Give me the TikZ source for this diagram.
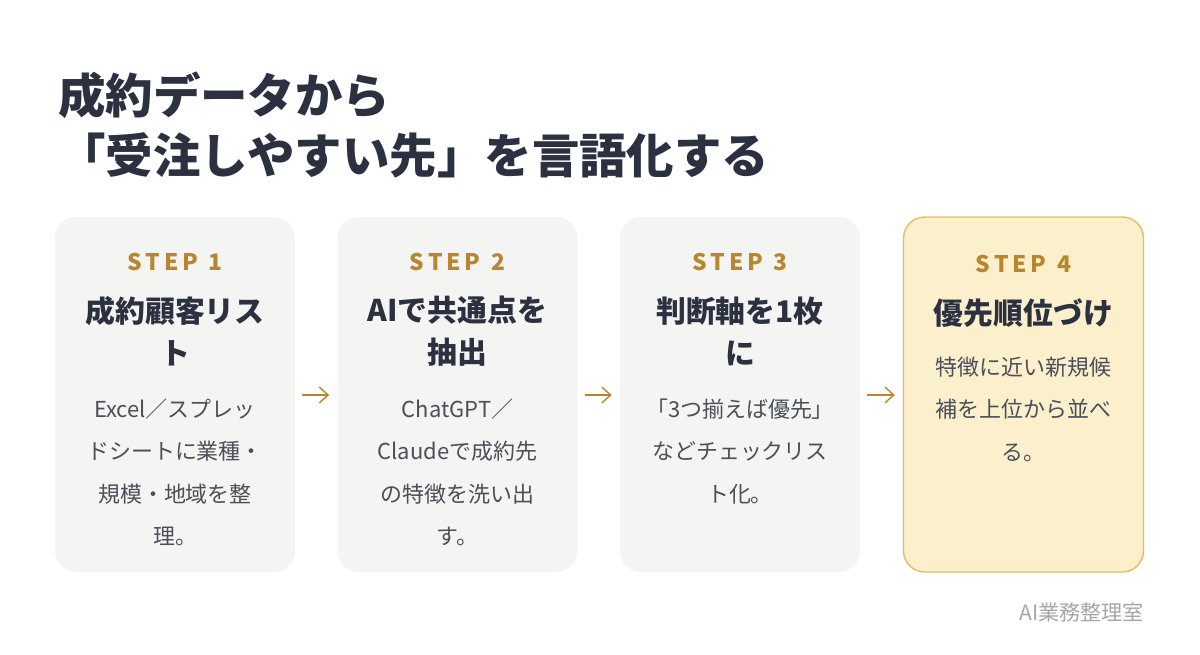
\documentclass[tikz,border=0pt]{standalone}
\usepackage{fontspec}
\setmainfont{Noto Sans CJK JP}
\usetikzlibrary{arrows.meta,positioning}
\definecolor{titlecol}{HTML}{2B3140}
\definecolor{stepcol}{HTML}{B8862E}
\definecolor{boxgray}{HTML}{F4F4F2}
\definecolor{boxgold}{HTML}{FBEFCC}
\definecolor{goldline}{HTML}{E2BC66}
\definecolor{bodycol}{HTML}{4A4F5A}
\tikzset{
  stepbox/.style={rounded corners=12pt,minimum width=4.8cm,minimum height=7.1cm,
    fill=boxgray,draw=none,inner sep=0pt},
  stepno/.style={text=stepcol,font=\fontsize{13}{15}\selectfont\bfseries},
  stephead/.style={text=titlecol,font=\fontsize{17}{24}\selectfont\bfseries,align=center},
  stepbody/.style={text=bodycol,font=\fontsize{12.5}{24}\selectfont,align=center},
  flow/.style={-{Straight Barb[length=5pt,width=9pt]},stepcol,line width=0.8pt,
    shorten <=0.14cm,shorten >=0.16cm},
}
\begin{document}
\begin{tikzpicture}[x=0.02cm,y=-0.02cm]
  \useasboundingbox[fill=white] (0,0) rectangle (1200,654);

  % title
  \node[anchor=west,text=titlecol,font=\fontsize{27}{32}\selectfont\bfseries]
    (title1) at (52,95) {成約データから};
  \node[anchor=west,text=titlecol,font=\fontsize{27}{32}\selectfont\bfseries]
    (title2) at (52,155) {「受注しやすい先」を言語化する};

  % boxes
  \node[stepbox] (box1) at (175,394.5) {};
  \node[stepbox] (box2) at (457.5,394.5) {};
  \node[stepbox] (box3) at (740,394.5) {};
  \node[stepbox,fill=boxgold,draw=goldline,line width=0.8pt] (box4) at (1023.5,394.5) {};

  % step 1
  \node[stepno] (no1) at (175,262) {S\,T\,E\,P\ \ 1};
  \node[stephead] (head1) at (175,331) {成約顧客リス\\ト};
  \node[stepbody,anchor=north] (body1) at (175,393) {Excel／スプレッ\\ドシートに業種・\\規模・地域を整\\理。};

  % step 2
  \node[stepno] (no2) at (457.5,262) {S\,T\,E\,P\ \ 2};
  \node[stephead] (head2) at (457.5,331) {AIで共通点を\\抽出};
  \node[stepbody,anchor=north] (body2) at (457.5,393) {ChatGPT／\\Claudeで成約先\\の特徴を洗い出\\す。};

  % step 3
  \node[stepno] (no3) at (740,262) {S\,T\,E\,P\ \ 3};
  \node[stephead] (head3) at (740,331) {判断軸を1枚\\に};
  \node[stepbody,anchor=north] (body3) at (740,393) {「3つ揃えば優先」\\などチェックリス\\ト化。};

  % step 4
  \node[stepno] (no4) at (1023.5,264) {S\,T\,E\,P\ \ 4};
  \node[stephead] (head4) at (1023.5,313) {優先順位づけ};
  \node[stepbody,anchor=north] (body4) at (1023.5,351) {特徴に近い新規候\\補を上位から並べ\\る。};

  % arrows
  \draw[flow] (box1.east |- 0,395) -- (box2.west |- 0,395);
  \draw[flow] (box2.east |- 0,395) -- (box3.west |- 0,395);
  \draw[flow] (box3.east |- 0,395) -- (box4.west |- 0,395);

  % footer
  \node[anchor=east,text=gray!70,font=\fontsize{12}{14}\selectfont] (brand) at (1150,612) {AI業務整理室};
\end{tikzpicture}
\end{document}
